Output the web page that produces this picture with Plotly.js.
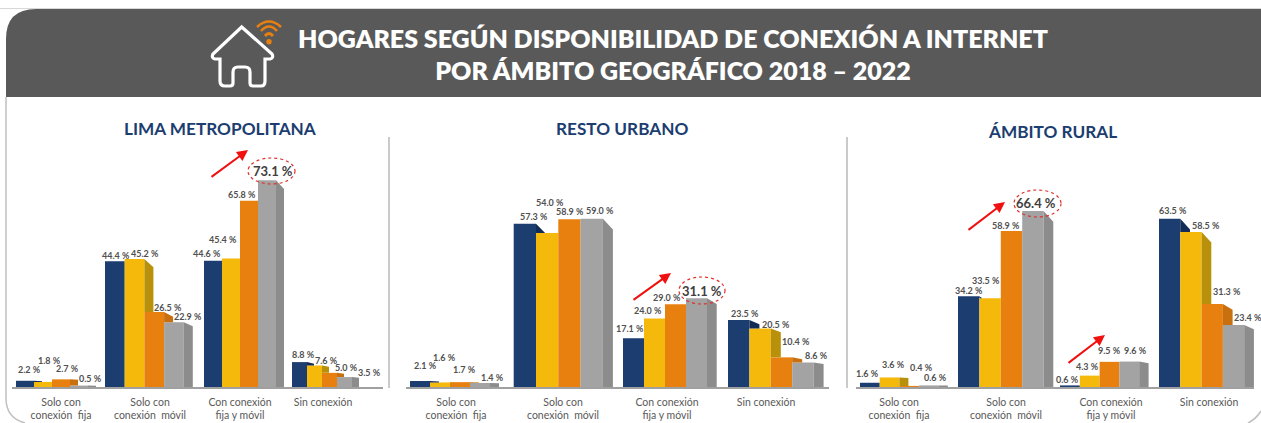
<!DOCTYPE html>
<html><head><meta charset="utf-8">
<script src="https://cdn.plot.ly/plotly-3.0.1.min.js"></script>
<style>html,body{margin:0;padding:0;background:#fff;overflow:hidden}#c{width:1261px;height:423px}</style>
</head><body><div id="c"></div>
<script>
// ---- data ----
const categories = ['Solo con<br>conexión  fija','Solo con<br>conexión  móvil','Con conexión<br>fija y móvil','Sin conexión'];
const limaSerie1 = [2.2,44.4,44.6,8.8];
const limaSerie2 = [1.8,45.2,45.4,7.6];
const limaSerie3 = [2.7,26.5,65.8,5.0];
const limaSerie4 = [0.5,22.9,73.1,3.5];
const restoSerie1 = [2.1,57.3,17.1,23.5];
const restoSerie2 = [1.6,54.0,24.0,20.5];
const restoSerie3 = [1.7,58.9,29.0,10.4];
const restoSerie4 = [1.4,59.0,31.1,8.6];
const ruralSerie1 = [1.6,34.2,0.6,63.5];
const ruralSerie2 = [3.6,33.5,4.3,58.5];
const ruralSerie3 = [0.4,58.9,9.5,31.3];
const ruralSerie4 = [0.6,66.4,9.6,23.4];
const panelNames = ['LIMA METROPOLITANA','RESTO URBANO','ÁMBITO RURAL'];
const titleText = 'HOGARES SEGÚN DISPONIBILIDAD DE CONEXIÓN A INTERNET<br>POR ÁMBITO GEOGRÁFICO 2018 – 2022';

// ---- styling and placement (pixels of the 1261x423 page) ----
const W=1261,H=423,BASE=387,TOP=120,FONT='Lato, "Open Sans", sans-serif';
const colors=['#1c3d70','#f4b90a','#e8800f','#a3a3a3'];
const sides=['#122c55','#b8900a','#c8700f','#8c8c8c'];
const panels=[
 {series:[limaSerie1,limaSerie2,limaSerie3,limaSerie4],scale:2.83,axis:[12,383],name:[220,128],
  left:[16,105,204,292],bw:[18,19.7,18,15],depth:[8,9,8,7],ticks:[61,150,240,323],
  labels:[[[29,369],[116,255],[207,253],[303,354]],[[49,360],[145,253],[223,239],[326,360]],
          [[67,368],[168,307],[242,194],[346,367]],[[91,378],[188,316],[273,171],[369,372]]],
  big:[3,2],ell:[248,295,158,184],arrows:[[210,178,248,150]]},
 {series:[restoSerie1,restoSerie2,restoSerie3,restoSerie4],scale:2.85,axis:[406,829],name:[622,128],
  left:[410,513.7,623,728],bw:[20,22.3,21,21.4],depth:[9,10,9.7,10],ticks:[456,563,667,766],
  labels:[[[425,365],[534,217],[630,328],[745,313]],[[444,357],[550,202],[648,310],[776,324]],
          [[464,369],[570,212],[667,297],[796,341]],[[492,377],[600,211],[702,291],[816,355]]],
  big:[3,2],ell:[679,725,277,304],arrows:[[632,301,671,273]]},
 {series:[ruralSerie1,ruralSerie2,ruralSerie3,ruralSerie4],scale:2.65,axis:[856,1254],name:[1052,131],
  left:[860,958,1060,1159],bw:[19.7,21.4,19.8,21.3],depth:[9,9.7,9.4,9.7],ticks:[899,1006,1111,1209],
  labels:[[[867,373],[969,290],[1067,379],[1173,211]],[[893,364],[986,280],[1087,366],[1206,225]],
          [[921,367],[1006,225],[1109,350],[1227,291]],[[935,377],[1036,203],[1135,350],[1248,317]]],
  big:[3,1],ell:[1014,1061,190,217],arrows:[[967,231,1005,202],[1067,364,1105,335]]}
];
const fx=p=>p/W, fy=p=>1-p/H;
function path(cmds){ // [['M',x,y],...] in page pixels to paper fractions
  return cmds.map(c=>{ let s=c[0]; for(let i=1;i<c.length;i+=2) s+=(i>1?' ':'')+fx(c[i])+','+fy(c[i+1]); return s;}).join(' ');
}

const traces=[],annotations=[];
const layout={width:W,height:H,margin:{l:0,r:0,t:0,b:0},showlegend:false,barmode:'overlay',
  paper_bgcolor:'#fff',plot_bgcolor:'rgba(0,0,0,0)',hovermode:false,font:{family:FONT},
  title:{text:titleText,x:673/W,xanchor:'center',xref:'paper',y:fy(47.5),yanchor:'middle',yref:'paper',
         font:{family:FONT,size:25,color:'#fff',weight:800}},
  shapes:[],annotations};

panels.forEach((p,k)=>{
  const sfx=k?String(k+1):'', xa='x'+sfx, ya='y'+sfx;
  layout['xaxis'+sfx]={domain:[fx(p.axis[0]),fx(p.axis[1])],range:p.axis,anchor:ya,showgrid:false,zeroline:false,
    showline:true,linecolor:'#a0a0a0',linewidth:2,ticks:'',tickmode:'array',tickvals:p.ticks,ticktext:categories,
    ticklabelstandoff:4,tickfont:{family:FONT,size:10.5,color:'#595959'},tickangle:0,fixedrange:true};
  layout['yaxis'+sfx]={domain:[fy(BASE),fy(TOP)],range:[0,(BASE-TOP)/p.scale],anchor:xa,visible:false,fixedrange:true};
  p.series.forEach((vals,s)=>{
    // darker side face of each bar, visible only above the neighbouring bar
    const sx=[],sy=[];
    vals.forEach((v,g)=>{
      const x1=p.left[g]+p.bw[g]*(s+1), d=p.depth[g], drop=Math.min(d*1.1,0.18*v)/p.scale;
      const next=s<3?p.series[s+1][g]:0;
      if(next>=v) return;
      if(next>v-drop){ sx.push(x1,x1+d*(v-next)/drop,x1,x1,null); sy.push(v,next,next,v,null); }
      else { sx.push(x1,x1+d,x1+d,x1,x1,null); sy.push(v,v-drop,next,next,v,null); }
    });
    traces.push({type:'scatter',mode:'none',fill:'toself',fillcolor:sides[s],x:sx,y:sy,xaxis:xa,yaxis:ya,hoverinfo:'skip'});
    traces.push({type:'bar',name:'Serie '+(s+1),x:vals.map((_,g)=>p.left[g]+p.bw[g]*(s+0.5)),y:vals,
      width:p.bw,marker:{color:colors[s],line:{width:0}},xaxis:xa,yaxis:ya});
    vals.forEach((v,g)=>{
      const big=p.big[0]===s&&p.big[1]===g, pos=p.labels[s][g];
      annotations.push({xref:'paper',yref:'paper',x:fx(pos[0]),y:fy(pos[1]),xanchor:'center',yanchor:'middle',showarrow:false,
        text:v.toFixed(1)+' %',font:{family:FONT,size:big?13:9,color:big?'#404040':'#505050',weight:700}});
    });
  });
  annotations.push({xref:'paper',yref:'paper',x:fx(p.name[0]),y:fy(p.name[1]),xanchor:'center',yanchor:'middle',showarrow:false,
    text:panelNames[k],font:{family:FONT,size:17.2,color:'#1c3d70',weight:700}});
  p.arrows.forEach(a=>annotations.push({xref:'paper',yref:'paper',axref:'pixel',ayref:'pixel',x:fx(a[2]),y:fy(a[3]),
    ax:a[0]-a[2],ay:a[1]-a[3],text:'',showarrow:true,arrowcolor:'#f01010',arrowwidth:2,arrowhead:2,arrowsize:1.1}));
  layout.shapes.push({type:'circle',xref:'paper',yref:'paper',x0:fx(p.ell[0]),x1:fx(p.ell[1]),y0:fy(p.ell[2]),y1:fy(p.ell[3]),
    line:{color:'#e0302a',width:1.2,dash:'dot'}});
});

const S=layout.shapes;
// header band and frame
S.unshift({type:'path',xref:'paper',yref:'paper',layer:'below',fillcolor:'#595959',line:{width:0},
  path:path([['M',6,97],['L',6,39],['Q',6,9,36,9],['L',1261,9],['L',1261,97],['Z']])});
S.push({type:'path',xref:'paper',yref:'paper',line:{color:'#c0c0c0',width:1.5},
  path:path([['M',6,97],['L',6,398],['Q',6,418,25,423]])});
S.push({type:'path',xref:'paper',yref:'paper',line:{color:'#c0c0c0',width:1.5},
  path:path([['M',1261,411],['Q',1256,419,1248,423]])});
S.push({type:'line',xref:'paper',yref:'paper',x0:fx(0),x1:fx(1261),y0:fy(8.5),y1:fy(8.5),line:{color:'#d8d8d8',width:1}});
// panel dividers
[389,847].forEach(x=>S.push({type:'line',xref:'paper',yref:'paper',x0:fx(x),x1:fx(x),y0:fy(137),y1:fy(388),line:{color:'#b8b8b8',width:1.5}}));
// house icon
S.push({type:'path',xref:'paper',yref:'paper',line:{color:'#fff',width:3.2},
  path:path([['M',241.7,27],['L',213,54],['Q',211,58,215,59],['L',220,59],['L',220,81],['Q',220,86,225,86],['L',230,86],['Q',233,86,233,83],
    ['L',233,72],['Q',233,67,238,67],['L',245,67],['Q',250,67,250,72],['L',250,83],['Q',250,86,253,86],['L',261,86],['Q',265,86,265,81],
    ['L',265,59],['L',270,59],['Q',274,58,272,54],['Z']])});
// wifi icon
[[[265,36],[269,31],[273,36],3],[[261,31],[269,22],[277,31],2.6],[[257,27],[269,16],[281,27],2.6]].forEach(a=>
  S.push({type:'path',xref:'paper',yref:'paper',line:{color:'#e8800f',width:a[3]},
    path:path([['M',a[0][0],a[0][1]],['Q',a[1][0],a[1][1],a[2][0],a[2][1]]])}));
S.push({type:'circle',xref:'paper',yref:'paper',x0:fx(266.3),x1:fx(271.7),y0:fy(39),y1:fy(44.4),fillcolor:'#e8800f',line:{width:0}});

Plotly.newPlot('c',traces,layout,{displayModeBar:false,staticPlot:true});
</script></body></html>
